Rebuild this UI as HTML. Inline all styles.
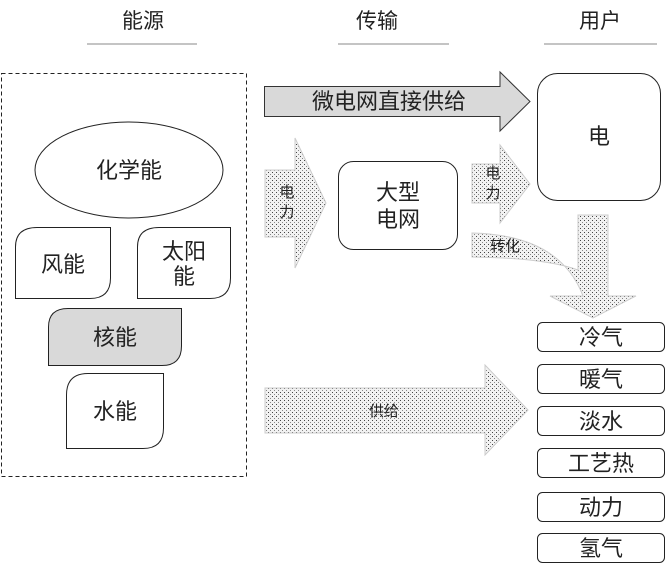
<!DOCTYPE html>
<html><head><meta charset="utf-8"><style>
html,body{margin:0;padding:0;background:#fff;}
svg{display:block;font-family:"Liberation Sans","Noto Sans CJK SC",sans-serif;}
</style></head><body>
<svg width="667" height="574" viewBox="0 0 667 574" xmlns="http://www.w3.org/2000/svg">
<defs>
<pattern id="dots" width="4" height="4" patternUnits="userSpaceOnUse">
<rect width="4" height="4" fill="#f2f2f2"/>
<rect x="0" y="0" width="1" height="1" fill="#444"/>
<rect x="2" y="2" width="1" height="1" fill="#888"/>
</pattern>
</defs>
<g font-size="21" fill="#222" text-anchor="middle">
<text x="143" y="28">能源</text>
<text x="377" y="28">传输</text>
<text x="600" y="28">用户</text>
</g>
<g stroke="#888" stroke-width="1">
<line x1="87" y1="44" x2="197" y2="44"/>
<line x1="338" y1="44" x2="449" y2="44"/>
<line x1="544" y1="44" x2="657" y2="44"/>
</g>
<rect x="1.5" y="73.5" width="245" height="403" fill="none" stroke="#222" stroke-dasharray="4,3"/>
<ellipse cx="129" cy="170" rx="94" ry="48" fill="#fff" stroke="#222"/>
<text x="129" y="178" font-size="22" text-anchor="middle" fill="#222">化学能</text>
<path d="M15.5 298.5 V247 Q15.5 227.5 37 227.5 H110.5 V278 Q110.5 298.5 90 298.5 Z" fill="#fff" stroke="#222"/>
<text x="63" y="272" font-size="22" text-anchor="middle" fill="#222">风能</text>
<path d="M137.5 298.5 V247 Q137.5 227.5 159 227.5 H230.5 V278 Q230.5 298.5 210 298.5 Z" fill="#fff" stroke="#222"/>
<text x="184" y="259" font-size="22" text-anchor="middle" fill="#222">太阳</text>
<text x="184" y="284" font-size="22" text-anchor="middle" fill="#222">能</text>
<path d="M48.5 365.5 V327 Q48.5 308.5 68 308.5 H181.5 V346 Q181.5 365.5 162 365.5 Z" fill="#d9d9d9" stroke="#222"/>
<text x="115" y="345" font-size="22" text-anchor="middle" fill="#222">核能</text>
<path d="M66.5 448.5 V395 Q66.5 373.5 88 373.5 H163.5 V428 Q163.5 448.5 143 448.5 Z" fill="#fff" stroke="#222"/>
<text x="115" y="419" font-size="22" text-anchor="middle" fill="#222">水能</text>

<path d="M264.5 86.5 H500 V72 L530 101.5 L500 131 V116.5 H264.5 Z" fill="#d9d9d9" stroke="#333"/>
<text x="389" y="109" font-size="22" text-anchor="middle" fill="#222">微电网直接供给</text>

<path d="M265 170 H295 V138 L326 203 L295 268 V237 H265 Z" fill="url(#dots)" stroke="#ccc"/>
<text x="287" y="197" font-size="15" text-anchor="middle" fill="#222">电</text>
<text x="287" y="217" font-size="15" text-anchor="middle" fill="#222">力</text>

<rect x="338.5" y="161.5" width="119" height="88" rx="15" fill="#fff" stroke="#222"/>
<text x="398" y="200" font-size="22" text-anchor="middle" fill="#222">大型</text>
<text x="398" y="227" font-size="22" text-anchor="middle" fill="#222">电网</text>

<path d="M472 164 H500 V145 L530 184 L500 223 V203 H472 Z" fill="url(#dots)" stroke="#ccc"/>
<text x="493" y="178" font-size="15" text-anchor="middle" fill="#222">电</text>
<text x="493" y="198" font-size="15" text-anchor="middle" fill="#222">力</text>

<rect x="537.5" y="73.5" width="123" height="127" rx="20" fill="#fff" stroke="#222"/>
<text x="599" y="144" font-size="22" text-anchor="middle" fill="#222">电</text>

<path d="M472 233 Q560 235 583 296 H550 L593 318 L636 296 H608 V215 H578 V270 Q545 258 472 257 Z" fill="url(#dots)" stroke="#ccc"/>
<text x="505" y="251" font-size="15" text-anchor="middle" fill="#222">转化</text>

<path d="M265 388 H485 V365 L528 410 L485 455 V433 H265 Z" fill="url(#dots)" stroke="#ccc"/>
<text x="384" y="416" font-size="15" text-anchor="middle" fill="#222">供给</text>

<g fill="#fff" stroke="#222">
<rect x="537.5" y="322.5" width="127" height="29" rx="5"/>
<rect x="537.5" y="364.5" width="127" height="29" rx="5"/>
<rect x="537.5" y="406.5" width="127" height="29" rx="5"/>
<rect x="537.5" y="448.5" width="127" height="29" rx="5"/>
<rect x="537.5" y="492.5" width="127" height="29" rx="5"/>
<rect x="537.5" y="533.5" width="127" height="29" rx="5"/>
</g>
<g font-size="22" text-anchor="middle" fill="#222">
<text x="601" y="345">冷气</text>
<text x="601" y="387">暖气</text>
<text x="601" y="429">淡水</text>
<text x="601" y="471">工艺热</text>
<text x="601" y="515">动力</text>
<text x="601" y="556">氢气</text>
</g>
</svg>
</body></html>
